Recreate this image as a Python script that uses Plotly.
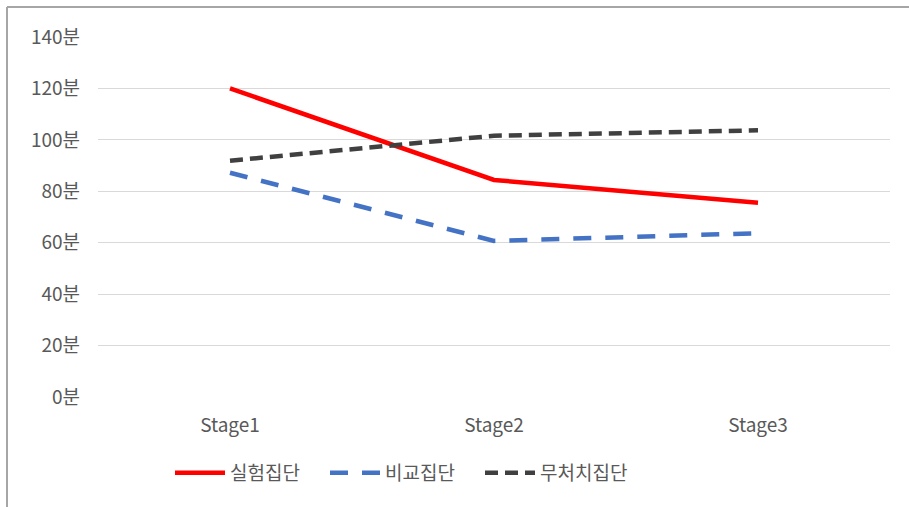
import plotly.graph_objects as go

categories = ["Stage1", "Stage2", "Stage3"]
experimental = [120, 84.4, 75.5]
comparison = [87.2, 60.7, 63.7]
no_treatment = [91.9, 101.6, 103.7]
y_ticks = [0, 20, 40, 60, 80, 100, 120, 140]
y_tick_labels = [f"{v}분" for v in y_ticks]

FONT = "Noto Sans CJK KR, Malgun Gothic, sans-serif"

fig = go.Figure()
fig.add_trace(go.Scatter(x=categories, y=experimental, name="실험집단", mode="lines",
                         line=dict(color="#FF0000", width=4.5)))
fig.add_trace(go.Scatter(x=categories, y=comparison, name="비교집단", mode="lines",
                         line=dict(color="#4472C4", width=4.5, dash="18px,14px")))
fig.add_trace(go.Scatter(x=categories, y=no_treatment, name="무처치집단", mode="lines",
                         line=dict(color="#404040", width=4.5, dash="13px,7px")))

L, R, T, B = 98, 19, 37, 110
W, H = 909, 507
pw, ph = W - L - R, H - T - B

def px_x(px):
    return (px - L) / pw

def px_y(py):
    return (H - B - py) / ph

fig.update_layout(
    width=W, height=H,
    margin=dict(l=L, r=R, t=T, b=B),
    paper_bgcolor="white", plot_bgcolor="white",
    font=dict(family=FONT, size=19, color="#595959"),
    showlegend=True,
    legend=dict(orientation="h", x=px_x(170), xanchor="left", y=px_y(473), yanchor="middle",
                font=dict(size=19, color="#595959"), itemwidth=50, traceorder="normal",
                entrywidth=90, itemclick=False),
    xaxis=dict(type="category", showgrid=False, zeroline=False, showline=False,
               ticks="", tickfont=dict(size=19, color="#595959"), ticklabelstandoff=15,
               range=[-0.5, 2.5]),
    yaxis=dict(range=[0, 140], tickvals=y_ticks, ticktext=y_tick_labels,
               showgrid=True, gridcolor="#D9D9D9", gridwidth=1, zeroline=False,
               showline=False, ticks="", tickfont=dict(size=19, color="#595959"),
               ticklabelstandoff=17),
    shapes=[
        dict(type="line", xref="paper", yref="paper", x0=px_x(7), x1=px_x(912),
             y0=px_y(7), y1=px_y(7), line=dict(color="#A6A6A6", width=2)),
        dict(type="line", xref="paper", yref="paper", x0=px_x(7), x1=px_x(7),
             y0=px_y(7), y1=px_y(510), line=dict(color="#A6A6A6", width=2)),
    ],
)

fig.write_html("out.html")
